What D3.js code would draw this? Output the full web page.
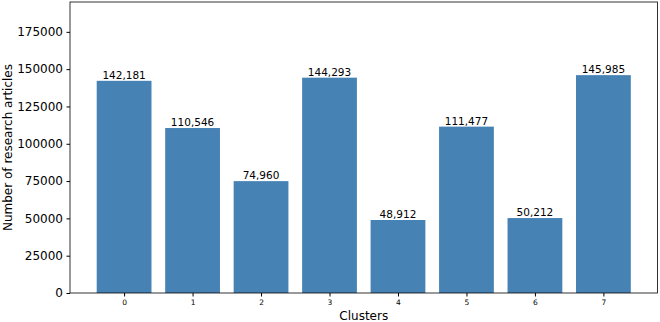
<!DOCTYPE html>
<html><head><meta charset="utf-8">
<script src="https://cdn.jsdelivr.net/npm/d3@7"></script>
<style>body{margin:0;background:#fff;} text{font-family:"DejaVu Sans",sans-serif;fill:#000;}</style>
</head><body>
<svg id="c" width="660" height="322"></svg>
<script>
const categories = ["0","1","2","3","4","5","6","7"];
const values = [142181, 110546, 74960, 144293, 48912, 111477, 50212, 145985];
const yTicks = [0, 25000, 50000, 75000, 100000, 125000, 150000, 175000];

const svg = d3.select("#c");
const L = 70, R = 657.5, T = 2, B = 293;
const x = d3.scaleLinear().domain([-0.79, 7.79]).range([L, R]);
const y = d3.scaleLinear().domain([0, 195000]).range([B, T]);
const bw = x(0.4) - x(-0.4);

svg.selectAll("rect.bar").data(values).enter().append("rect")
  .attr("class","bar")
  .attr("x",(d,i)=>x(i)-bw/2).attr("width",bw)
  .attr("y",d=>y(d)).attr("height",d=>B-y(d))
  .attr("fill","#4682b4");

svg.selectAll("text.lab").data(values).enter().append("text")
  .attr("class","lab")
  .attr("x",(d,i)=>x(i)).attr("y",d=>y(d)-2)
  .attr("text-anchor","middle").attr("font-size","10.5px")
  .text(d=>d3.format(",")(d));

// frame
svg.append("rect").attr("x",L).attr("y",T).attr("width",R-L).attr("height",B-T)
  .attr("fill","none").attr("stroke","#000").attr("stroke-width",0.8);

const ya = d3.axisLeft(y).tickValues(yTicks).tickFormat(d3.format("d")).tickSize(3.5).tickPadding(3.5);
const gy = svg.append("g").attr("transform",`translate(${L},0)`).call(ya);
gy.select(".domain").remove();
gy.selectAll("text").attr("font-size","12px").attr("font-family","DejaVu Sans");

const xa = d3.axisBottom(x).tickValues(d3.range(categories.length)).tickFormat(i=>categories[i]).tickSize(3.5).tickPadding(3.5);
const gx = svg.append("g").attr("transform",`translate(0,${B})`).call(xa);
gx.select(".domain").remove();
gx.selectAll("text").attr("font-size","7.5px").attr("font-family","DejaVu Sans");

svg.append("text").attr("x",(L+R)/2).attr("y",320).attr("text-anchor","middle")
  .attr("font-size","12px").text("Clusters");
svg.append("text").attr("transform",`translate(12,${(T+B)/2}) rotate(-90)`)
  .attr("text-anchor","middle").attr("font-size","12px").text("Number of research articles");
</script>
</body></html>
